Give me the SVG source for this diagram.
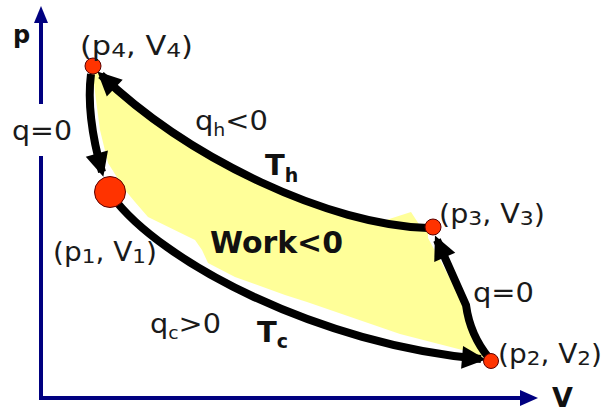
<svg xmlns="http://www.w3.org/2000/svg" width="607" height="412" viewBox="0 0 607 412">
<style>
.lbl{font-family:"DejaVu Sans","Liberation Sans",sans-serif;font-size:26px;fill:#1a1a1a}
.bold{font-family:"DejaVu Sans","Liberation Sans",sans-serif;font-weight:bold;fill:#111}
.curve{fill:none;stroke:#000;stroke-width:8;marker-end:url(#ah)}
.axis{fill:none;stroke:#000080;stroke-width:4}
.pt{fill:#ff3300;stroke:#5a0000;stroke-width:1}
</style>
<defs>
<marker id="ah" markerUnits="userSpaceOnUse" viewBox="-22 -12 28 24" refX="0" refY="0" markerWidth="28" markerHeight="24" orient="auto">
<path d="M5,0 L-19,-11.5 L-19,11.5 Z" fill="#000"/>
</marker>
</defs>
<rect width="607" height="412" fill="#fff"/>
<g id="work-area">
<path d="M92,66 L101,75 C190,160 330,225 428,228 L428,238 L466,308 Q472,340 489,360 L470,352 L400,334 L307,302 L285,295 L235,277 L208,263 L202,250 L195,240 L148,217 L135,202 L125,190 L108,163 L100,130 L96,100 Z" fill="#ffff99"/>
<path d="M380,222 L411,212 L428,238 L400,228 Z" fill="#ffff99"/>
</g>
<g id="axes">
<path class="axis" d="M41,22 V104"/>
<path class="axis" d="M41,156 V398 H522"/>
<path d="M41,6 L34,23 L48,23 Z" fill="#000080"/>
<path d="M538,398 L520,390 L520,406 Z" fill="#000080"/>
<text class="bold" x="13" y="43" font-size="24">p</text>
<text class="bold" x="552" y="407" font-size="27">V</text>
</g>
<g id="connectors">
<path id="c-34" class="curve" d="M428,228 C330,225 190,160 101,75"/>
<path id="c-41" class="curve" d="M91,74 C87,105 93,140 102,172"/>
<path id="c-12" class="curve" d="M112,196 C160,262 320,345 481,359"/>
<path id="c-23" class="curve" d="M489,358 Q470,335 466,305 L437,240"/>
</g>
<g id="p4">
<circle class="pt" cx="93" cy="66" r="8"/>
<text class="lbl" x="80" y="55" textLength="113" lengthAdjust="spacingAndGlyphs">(p<tspan font-size="20" dy="2">4</tspan><tspan dy="-2">, V</tspan><tspan font-size="20" dy="2">4</tspan><tspan dy="-2">)</tspan></text>
</g>
<g id="p1">
<circle class="pt" cx="110" cy="192" r="15.5"/>
<text class="lbl" x="53" y="261" textLength="104" lengthAdjust="spacingAndGlyphs">(p<tspan font-size="20" dy="2">1</tspan><tspan dy="-2">, V</tspan><tspan font-size="20" dy="2">1</tspan><tspan dy="-2">)</tspan></text>
</g>
<g id="p3">
<circle class="pt" cx="433" cy="227" r="8"/>
<text class="lbl" x="439" y="223" textLength="106" lengthAdjust="spacingAndGlyphs">(p<tspan font-size="20" dy="2">3</tspan><tspan dy="-2">, V</tspan><tspan font-size="20" dy="2">3</tspan><tspan dy="-2">)</tspan></text>
</g>
<g id="p2">
<circle class="pt" cx="491" cy="361" r="7.5"/>
<text class="lbl" x="498" y="363" textLength="104" lengthAdjust="spacingAndGlyphs">(p<tspan font-size="20" dy="2">2</tspan><tspan dy="-2">, V</tspan><tspan font-size="20" dy="2">2</tspan><tspan dy="-2">)</tspan></text>
</g>
<g id="labels">
<text class="lbl" x="12" y="140" textLength="60" lengthAdjust="spacingAndGlyphs">q=0</text>
<text class="lbl" x="473" y="302" textLength="61" lengthAdjust="spacingAndGlyphs">q=0</text>
<text class="lbl" x="195" y="130" textLength="73" lengthAdjust="spacingAndGlyphs">q<tspan font-size="17" dy="6">h</tspan><tspan dy="-6">&lt;0</tspan></text>
<text class="lbl" x="150" y="333" textLength="71" lengthAdjust="spacingAndGlyphs">q<tspan font-size="17" dy="6">c</tspan><tspan dy="-6">&gt;0</tspan></text>
<text class="bold" x="265" y="175" font-size="29">T<tspan font-size="19" dy="7">h</tspan></text>
<text class="bold" x="257" y="342" font-size="29">T<tspan font-size="19" dy="6">c</tspan></text>
<text class="bold" x="210" y="253" font-size="30" textLength="133" lengthAdjust="spacingAndGlyphs">Work&lt;0</text>
</g>
</svg>
